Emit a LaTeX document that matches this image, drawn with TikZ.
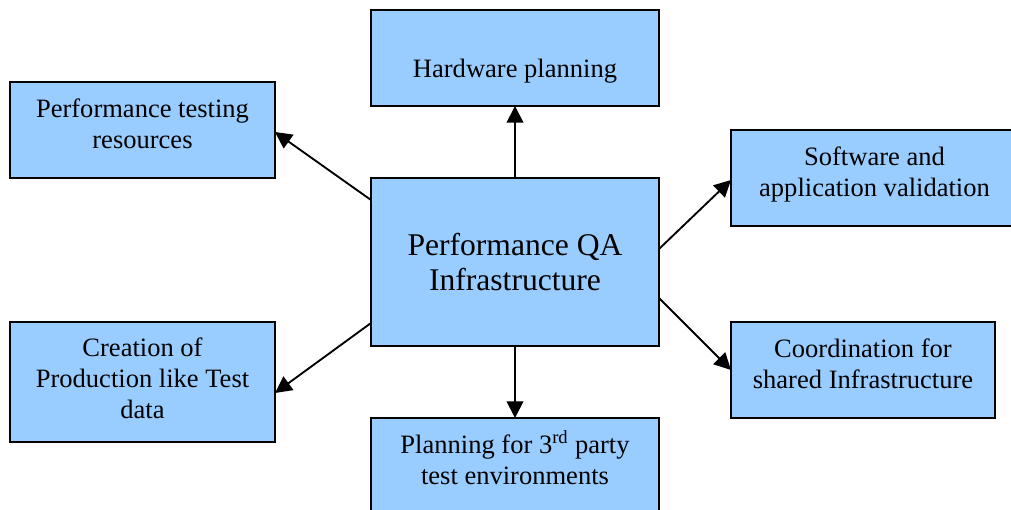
\documentclass[tikz,border=0pt]{standalone}
\usepackage{fontspec}
\setmainfont{Liberation Serif}
\usetikzlibrary{arrows.meta,calc}
\definecolor{boxblue}{HTML}{99CCFF}
\begin{document}
\begin{tikzpicture}[x=0.75pt,y=-0.75pt,
  box/.style={draw=black, line width=1.5pt, fill=boxblue, inner sep=0pt, outer sep=0pt},
  txt/.style={inner sep=0pt, align=center, font=\fontsize{19.9}{23.25}\selectfont},
  bigtxt/.style={inner sep=0pt, align=center, font=\fontsize{23.7}{26.25}\selectfont},
  link/.style={draw=black, line width=1.4pt, -{Triangle[length=12.5pt,width=12.5pt]}}]
\useasboundingbox (0,0) rectangle (1011,510);

% boxes
\node[box, minimum width=216pt, minimum height=72pt] (hw) at (515,58) {};
\node[box, minimum width=198.75pt, minimum height=72pt] (perf) at (142.5,130) {};
\node[box, minimum width=215.25pt, minimum height=72pt] (sw) at (874.5,178) {};
\node[box, minimum width=216pt, minimum height=126pt] (qa) at (515,262) {};
\node[box, minimum width=198.75pt, minimum height=90pt] (cre) at (142.5,382) {};
\node[box, minimum width=198pt, minimum height=72pt] (coord) at (863,370) {};
\node[box, minimum width=216pt, minimum height=72pt] (third) at (515,466) {};

% texts
\node[txt] (hwtext) at (515,70.9) {Hardware planning};
\node[txt] (perftext) at (142.5,124) {Performance testing\\resources};
\node[bigtxt] (qatext) at (515,262.5) {Performance QA\\Infrastructure};
\node[txt] (cretext) at (142.5,378.5) {Creation of\\Production like Test\\data};
\node[txt] (swtext) at (874.5,174.5) {Software and\\application validation};
\node[txt] (coordtext) at (863,363.5) {Coordination for\\shared Infrastructure};
\node[txt] (thirdtext) at (515,457.5) {Planning for 3\textsuperscript{rd} party\\test environments};

% connectors
\draw[link] (qa.north) -- (hw.south);
\draw[link] (qa.south) -- (third.north);
\draw[link] ($(qa.north west)+(0,22)$) -- ($(perf.east)+(0,2)$);
\draw[link] ($(qa.south west)+(0,-23)$) -- ($(cre.east)+(0,11)$);
\draw[link] ($(qa.north east)+(0,71)$) -- ($(sw.west)+(0,2)$);
\draw[link] ($(qa.south east)+(0,-48)$) -- (coord.west);
\end{tikzpicture}
\end{document}
